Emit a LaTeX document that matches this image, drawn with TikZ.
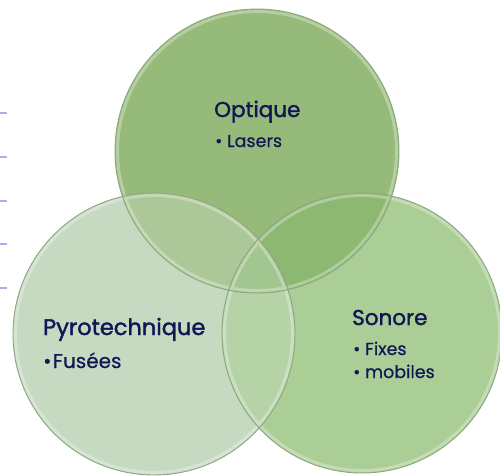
\documentclass[tikz,border=0pt]{standalone}
\usepackage{fontspec}
\setmainfont{Poppins}
\newfontfamily\headfont[FakeBold=1.6]{Poppins}
\newfontfamily\itemfont[FakeBold=0.4]{Poppins}
\usepackage{xcolor}
\usepackage{tikz}

\definecolor{topgreen}{RGB}{150,186,122}
\definecolor{rightgreen}{RGB}{170,206,150}
\definecolor{leftgreen}{RGB}{197,218,192}
\definecolor{topright}{RGB}{140,184,114}
\definecolor{topleft}{RGB}{172,199,152}
\definecolor{leftright}{RGB}{181,211,167}
\definecolor{middle}{RGB}{162,198,144}
\definecolor{rimgray}{RGB}{140,166,126}
\definecolor{navy}{RGB}{18,22,84}
\definecolor{tick}{RGB}{172,172,245}

\tikzset{
  rim/.style={draw=rimgray,line width=0.9pt},
  gloss/.style={draw=white,opacity=0.3,line width=3pt},
  head/.style={anchor=base west,text=navy,inner sep=0pt,font=\headfont\fontsize{21.5}{24}\selectfont},
  item/.style={anchor=base west,text=navy,inner sep=0pt,font=\itemfont\fontsize{17.5}{20}\selectfont},
}

\def\rT{142pt}
\def\rL{141pt}
\def\rR{140pt}

\begin{document}
\begin{tikzpicture}[x=1pt,y=-1pt]
	\useasboundingbox (0,0) rectangle (500,475);
	\coordinate (T) at (257,151);
	\coordinate (L) at (154,334);
	\coordinate (R) at (362,333);
	% ticks
	\foreach \yy in {113,157,201,244,288}
	  \draw[tick,line width=1.6pt] (0,\yy) -- (7,\yy);
	% plain discs
	\fill[rightgreen] (R) circle (\rR);
	\fill[topgreen] (T) circle (\rT);
	\fill[leftgreen] (L) circle (\rL);
	% top and right
	\scope
	\clip (T) circle (\rT);
	\fill[topright] (R) circle (\rR);
	\endscope
	% top and left
	\scope
	\clip (T) circle (\rT);
	\fill[topleft] (L) circle (\rL);
	\endscope
	% left and right
	\scope
	\clip (L) circle (\rL);
	\fill[leftright] (R) circle (\rR);
	\endscope
	% all three
	\scope
	\clip (L) circle (\rL);
	\clip (T) circle (\rT);
	\fill[middle] (R) circle (\rR);
	\endscope
	% outline
	\draw[gloss] (R) circle (\rR-2.5pt) (T) circle (\rT-2.5pt) (L) circle (\rL-2.5pt);
	\draw[rim] (R) circle (\rR) (T) circle (\rT) (L) circle (\rL);
	% texts
	\node[head] (optique) at (214,117) {Optique};
	\node[item] (lasers) at (215,147) {• Lasers};
	\node[head,font=\headfont\fontsize{22.5}{25}\selectfont] (pyro) at (43,335) {Pyrotechnique};
	\node[item,font=\itemfont\fontsize{20}{23}\selectfont] (fusees) at (43,368) {•\hspace{1.5pt}Fusées};
	\node[head] (sonore) at (352,325) {Sonore};
	\node[item] (fixes) at (353,355) {• Fixes};
	\node[item] (mobiles) at (353,378) {• mobiles};
\end{tikzpicture}
\end{document}
